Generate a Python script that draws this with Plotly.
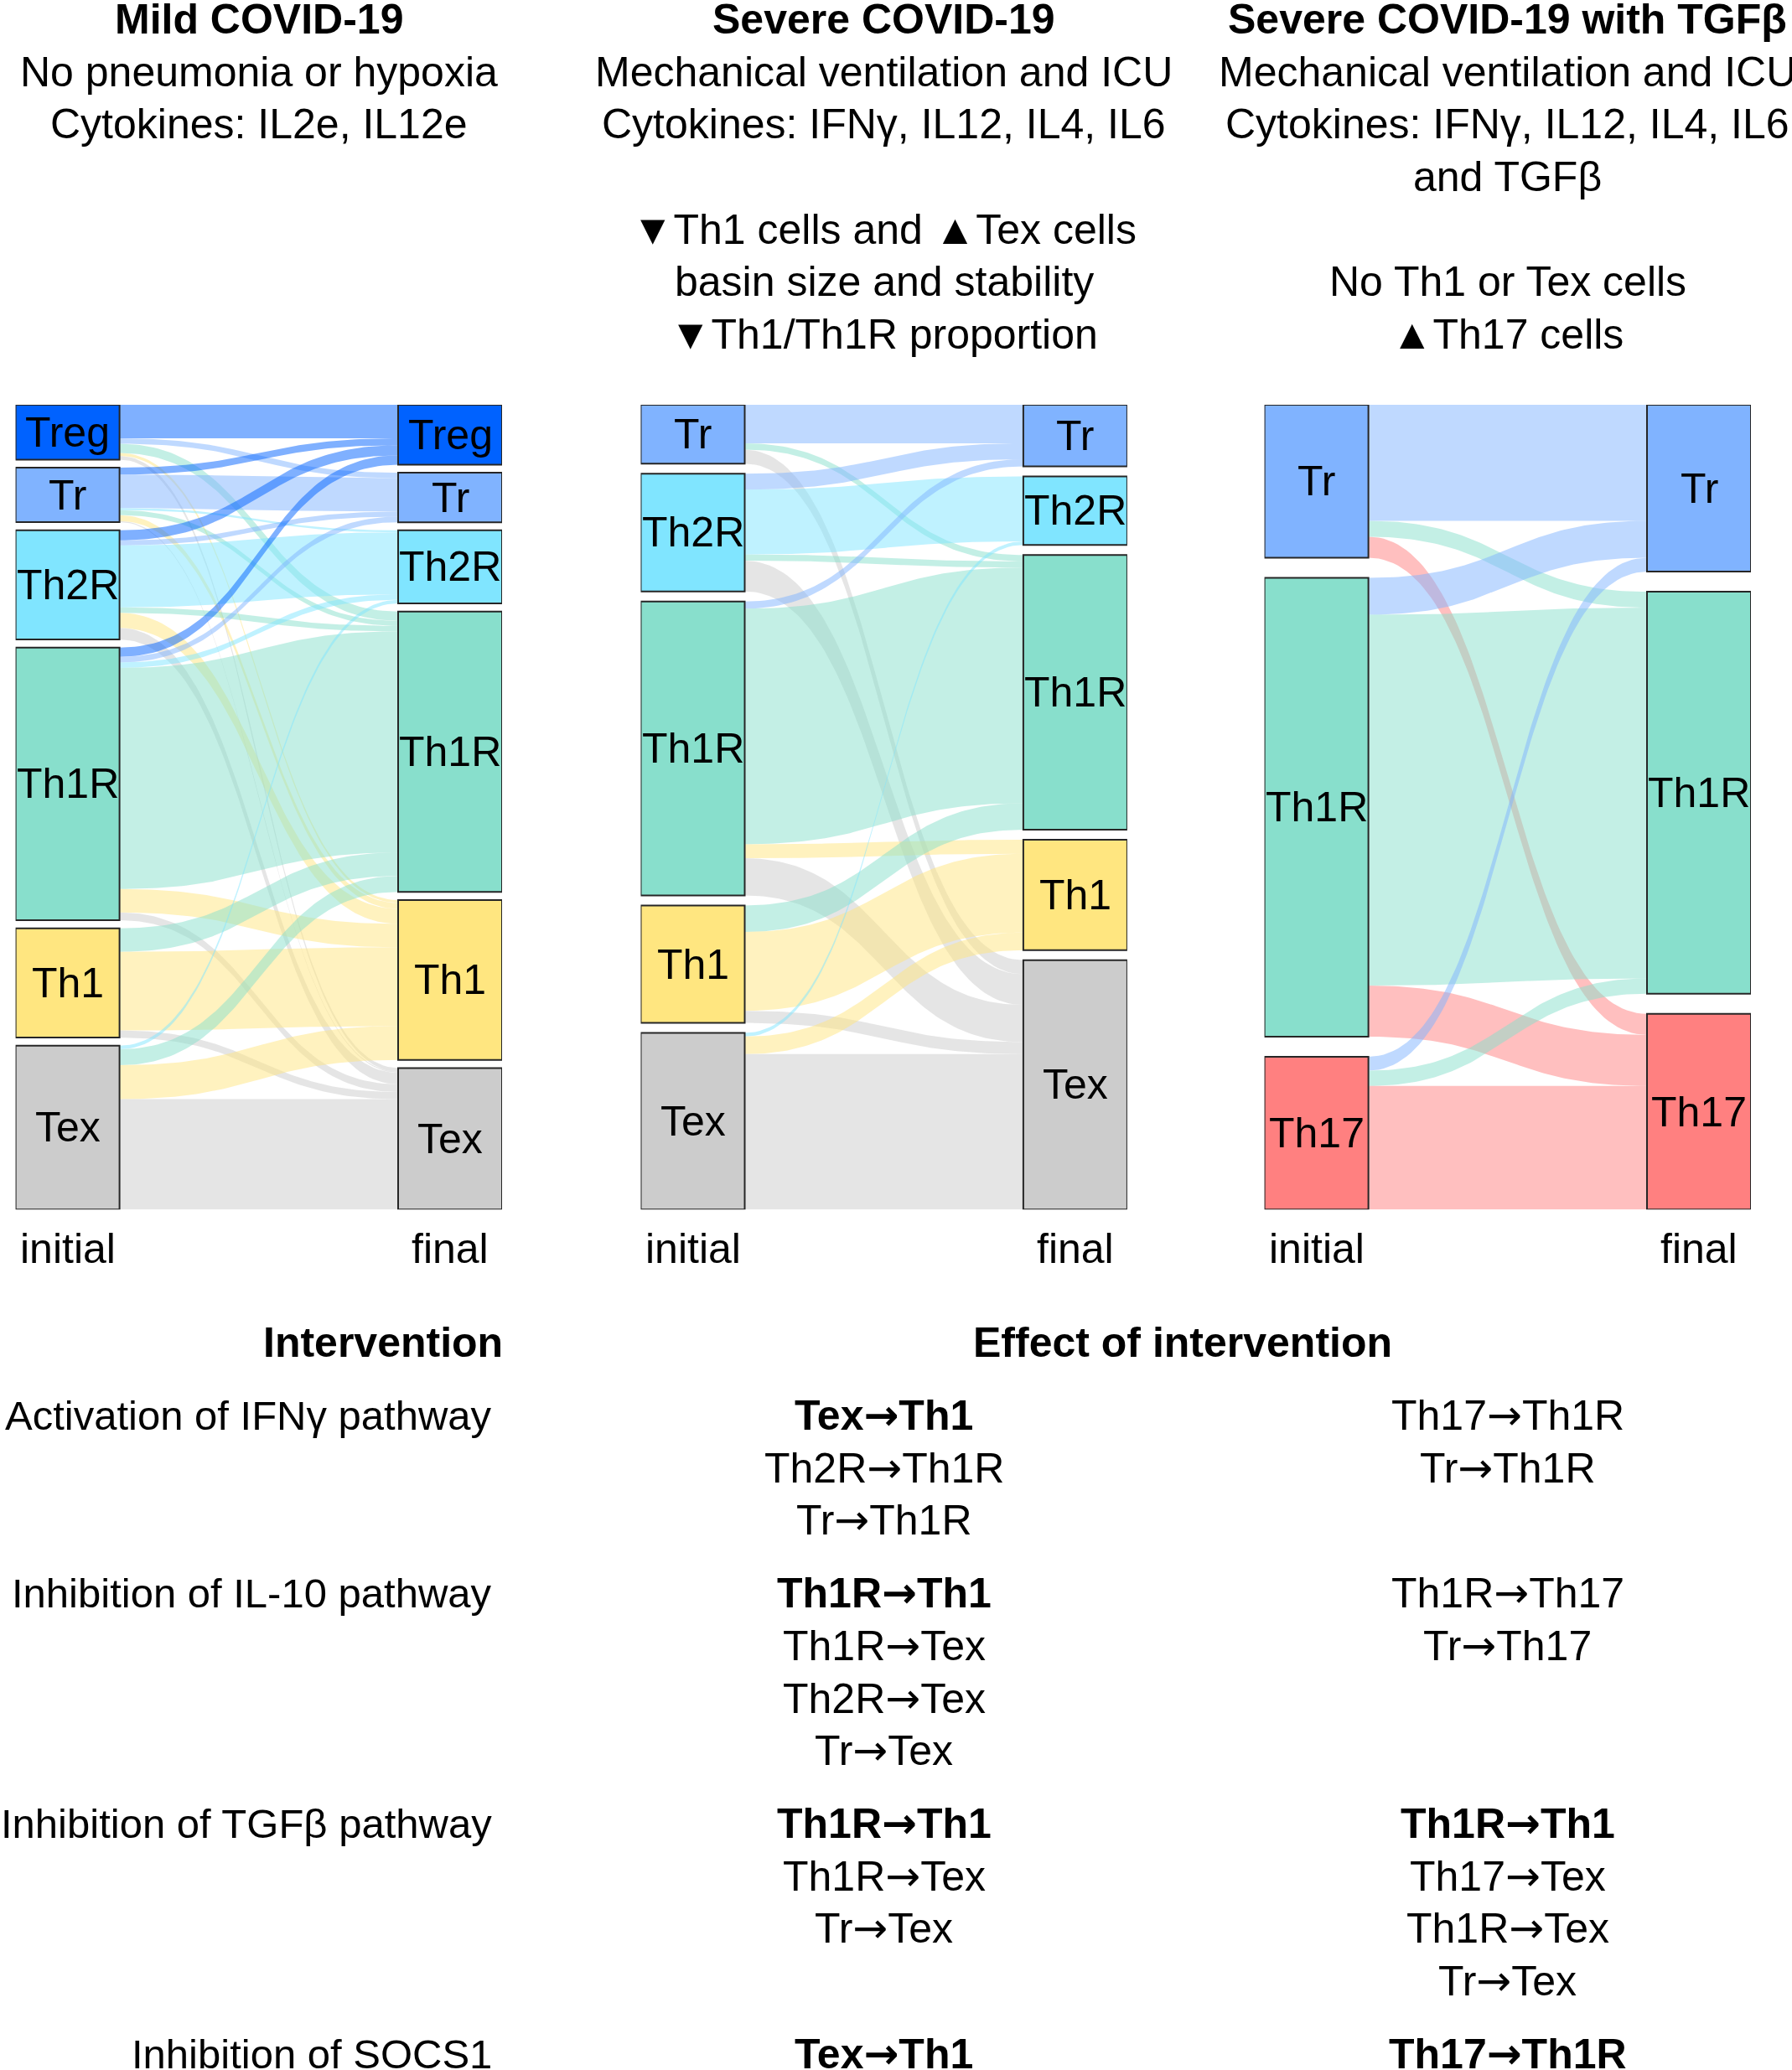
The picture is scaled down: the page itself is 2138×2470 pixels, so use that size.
import plotly.graph_objects as go

# ---------------- data (percent of cells, initial state -> final state) ----------------
mild_states = ["Treg", "Tr", "Th2R", "Th1R", "Th1", "Tex"]
mild_flows = [
    [4.38, 0.71, 0.00, 1.21, 0.38, 0.48],
    [0.91, 4.38, 0.27, 0.66, 0.77, 0.14],
    [1.32, 0.66, 8.11, 0.73, 1.97, 1.51],
    [1.21, 0.73, 0.71, 28.93, 3.07, 1.01],
    [0.00, 0.00, 0.00, 3.07, 10.30, 0.93],
    [0.00, 0.00, 0.48, 2.08, 4.44, 14.43],
]

severe_states = ["Tr", "Th2R", "Th1R", "Th1", "Tex"]
severe_flows = [
    [5.03, 0.00, 0.83, 0.00, 1.83],
    [2.08, 8.48, 0.81, 0.00, 4.01],
    [0.94, 0.00, 30.81, 1.83, 4.86],
    [0.00, 0.00, 3.46, 10.31, 1.58],
    [0.00, 0.47, 0.00, 2.30, 20.31],
]

tgfb_states = ["Tr", "Th1R", "Th17"]
tgfb_flows = [
    [15.17, 2.08, 2.75],
    [4.83, 48.51, 6.68],
    [1.82, 2.00, 16.16],
]

column_labels = ["initial", "final"]

mild_title = ["Mild COVID-19", "No pneumonia or hypoxia", "Cytokines: IL2e, IL12e"]
severe_title = ["Severe COVID-19", "Mechanical ventilation and ICU",
                "Cytokines: IFNγ, IL12, IL4, IL6", "",
                "▼Th1 cells and ▲Tex cells", "basin size and stability",
                "▼Th1/Th1R proportion"]
tgfb_title = ["Severe COVID-19 with TGFβ", "Mechanical ventilation and ICU",
              "Cytokines: IFNγ, IL12, IL4, IL6", "and TGFβ", "",
              "No Th1 or Tex cells", "▲Th17 cells"]

table_headers = ["Intervention", "Effect of intervention"]
interventions = ["Activation of IFNγ pathway", "Inhibition of IL-10 pathway",
                 "Inhibition of TGFβ pathway", "Inhibition of SOCS1"]
effects_severe = [["Tex→Th1", "Th2R→Th1R", "Tr→Th1R"],
                  ["Th1R→Th1", "Th1R→Tex", "Th2R→Tex", "Tr→Tex"],
                  ["Th1R→Th1", "Th1R→Tex", "Tr→Tex"],
                  ["Tex→Th1"]]
effects_tgfb = [["Th17→Th1R", "Tr→Th1R"],
                ["Th1R→Th17", "Tr→Th17"],
                ["Th1R→Th1", "Th17→Tex", "Th1R→Tex", "Tr→Tex"],
                ["Th17→Th1R"]]
severe_first_main = [True, True, True, True]
tgfb_first_main = [False, False, True, True]

# ---------------- styles & layout constants ----------------
W, H = 2138, 2470
FONT = "Liberation Sans, Arial, Helvetica, sans-serif"
FS = 50
FS_INTERV = 49
state_colors = {"Treg": "#0062ff", "Tr": "#80b3ff", "Th2R": "#80e5ff",
                "Th1R": "#88dfcc", "Th1": "#ffe680", "Tex": "#cccccc",
                "Th17": "#ff8080"}
link_alpha = 0.5
panel_left_px = [18.6, 764.5, 1508.6]
panel_w_px = 580.4
node_w_px = 124.0
panel_top_px, panel_bot_px = 483.1, 1443.2
gap_share = 0.05
title_y0_px, line_h_px = 23.0, 62.7
col_label_y_px = 1490.0
table_header_y_px = 1602.0
table_first_y_px = 1689.0
group_pad_px = 24.0
interv_right_px = 589.0
interv_header_right_px = 602.0
effect_header_x_px = 1411.0


def rgba(h, a):
    h = h.lstrip("#")
    return "rgba(%d,%d,%d,%.2f)" % (int(h[0:2], 16), int(h[2:4], 16), int(h[4:6], 16), a)


def fmt(t):
    return t.replace("→", '<span style="font-family:DejaVu Sans">→</span>')


def band(x0, x1, ys, yt, v, n=80):
    xm = (x0 + x1) / 2.0
    ts = [i / (n - 1) for i in range(n)]
    xs = [(1 - t) ** 3 * x0 + 3 * (1 - t) ** 2 * t * xm + 3 * (1 - t) * t ** 2 * xm + t ** 3 * x1 for t in ts]
    yc = [(1 - t) ** 3 * ys + 3 * (1 - t) ** 2 * t * ys + 3 * (1 - t) * t ** 2 * yt + t ** 3 * yt for t in ts]
    X = xs + xs[::-1] + [xs[0]]
    Y = yc + [y + v for y in yc][::-1] + [yc[0]]
    return X, Y


def px(xp):
    return xp / W


def py(yp):
    return 1 - yp / H


panels = [(mild_states, mild_flows, mild_title),
          (severe_states, severe_flows, severe_title),
          (tgfb_states, tgfb_flows, tgfb_title)]

fig = go.Figure()
axes = {}
shapes = []
annotations = []

for k, (states, flows, title) in enumerate(panels):
    sfx = "" if k == 0 else str(k + 1)
    xa, ya = "x" + sfx, "y" + sfx
    n = len(states)
    out_tot = [sum(r) for r in flows]
    in_tot = [sum(flows[i][j] for i in range(n)) for j in range(n)]
    total = sum(out_tot)
    span = total / (1 - gap_share)
    gap = (span - total) / (n - 1)

    def tops(vals):
        t, acc = [], 0.0
        for v in vals:
            t.append(acc)
            acc += v + gap
        return t

    src_top, tgt_top = tops(out_tot), tops(in_tot)
    w = node_w_px / panel_w_px

    s_y, t_y = {}, {}
    for i in range(n):
        acc = src_top[i]
        for j in range(n):
            s_y[(i, j)] = acc
            acc += flows[i][j]
    for j in range(n):
        acc = tgt_top[j]
        for i in range(n):
            t_y[(i, j)] = acc
            acc += flows[i][j]

    for i in range(n):
        for j in range(n):
            v = flows[i][j]
            if v <= 0:
                continue
            X, Y = band(w, 1 - w, s_y[(i, j)], t_y[(i, j)], v)
            fig.add_trace(go.Scatter(
                x=X, y=Y, xaxis=xa, yaxis=ya, mode="lines", line=dict(width=0),
                fill="toself", fillcolor=rgba(state_colors[states[j]], link_alpha),
                hoverinfo="skip", showlegend=False))

    for col, (x0, x1, tp, tot) in enumerate([(0, w, src_top, out_tot), (1 - w, 1, tgt_top, in_tot)]):
        for i, s in enumerate(states):
            shapes.append(dict(type="rect", xref=xa, yref=ya, x0=x0, x1=x1,
                               y0=tp[i], y1=tp[i] + tot[i], fillcolor=state_colors[s],
                               line=dict(color="#262626", width=2), layer="above"))
            annotations.append(dict(xref=xa, yref=ya, x=(x0 + x1) / 2, y=tp[i] + tot[i] / 2,
                                    text=s, showarrow=False,
                                    font=dict(size=FS, color="black", family=FONT)))
        annotations.append(dict(xref=xa, yref="paper", x=(x0 + x1) / 2, y=py(col_label_y_px),
                                text=column_labels[col], showarrow=False,
                                font=dict(size=FS, color="black", family=FONT)))

    axes["xaxis" + sfx] = dict(domain=[px(panel_left_px[k]), px(panel_left_px[k] + panel_w_px)],
                               range=[0, 1], visible=False, fixedrange=True, anchor=ya)
    axes["yaxis" + sfx] = dict(domain=[py(panel_bot_px), py(panel_top_px)],
                               range=[span, 0], visible=False, fixedrange=True, anchor=xa)

    cx = px(panel_left_px[k] + panel_w_px / 2)
    for li, line in enumerate(title):
        if not line:
            continue
        txt = "<b>%s</b>" % line if li == 0 else line
        annotations.append(dict(xref="paper", yref="paper", x=cx, y=py(title_y0_px + li * line_h_px),
                                text=txt, showarrow=False, xanchor="center", yanchor="middle",
                                font=dict(size=FS, color="black", family=FONT)))

# ---------------- table ----------------
annotations.append(dict(xref="paper", yref="paper", x=px(interv_header_right_px), y=py(table_header_y_px),
                        text="<b>%s</b>" % table_headers[0], showarrow=False, xanchor="right",
                        yanchor="middle", font=dict(size=FS, color="black", family=FONT)))
annotations.append(dict(xref="paper", yref="paper", x=px(effect_header_x_px), y=py(table_header_y_px),
                        text="<b>%s</b>" % table_headers[1], showarrow=False, xanchor="center",
                        yanchor="middle", font=dict(size=FS, color="black", family=FONT)))

effect_cols = [(effects_severe, severe_first_main, panel_left_px[1] + panel_w_px / 2),
               (effects_tgfb, tgfb_first_main, panel_left_px[2] + panel_w_px / 2)]
y_cur = table_first_y_px
for r, name in enumerate(interventions):
    annotations.append(dict(xref="paper", yref="paper", x=px(interv_right_px), y=py(y_cur),
                            text=name, showarrow=False, xanchor="right", yanchor="middle",
                            font=dict(size=FS_INTERV, color="black", family=FONT)))
    nlines = 1
    for effs, mains, cxp in effect_cols:
        lines = effs[r]
        nlines = max(nlines, len(lines))
        for li, t in enumerate(lines):
            txt = "<b>%s</b>" % fmt(t) if (li == 0 and mains[r]) else fmt(t)
            annotations.append(dict(xref="paper", yref="paper", x=px(cxp), y=py(y_cur + li * line_h_px),
                                    text=txt, showarrow=False, xanchor="center", yanchor="middle",
                                    font=dict(size=FS, color="black", family=FONT)))
    y_cur += nlines * line_h_px + group_pad_px

fig.update_layout(
    width=W, height=H, margin=dict(l=0, r=0, t=0, b=0),
    paper_bgcolor="white", plot_bgcolor="rgba(0,0,0,0)",
    showlegend=False, shapes=shapes, annotations=annotations,
    font=dict(family=FONT, size=FS, color="black"),
    **axes)

fig.write_html("out.html")
